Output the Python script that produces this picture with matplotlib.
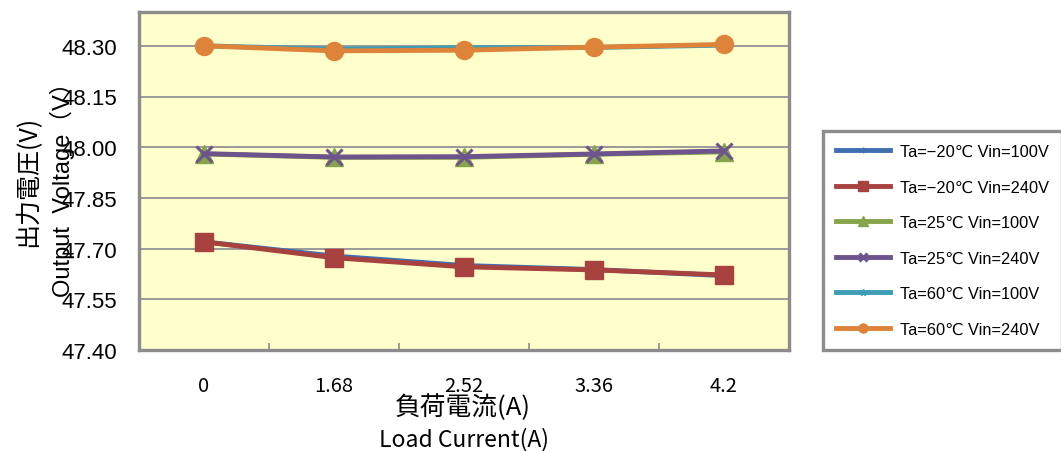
import numpy as np
import matplotlib.pyplot as plt
from matplotlib.ticker import FixedLocator

# Output voltage vs load current, six temperature / input voltage conditions
load_labels = ['0', '1.68', '2.52', '3.36', '4.2']

v_m20_100 = [47.720, 47.678, 47.650, 47.638, 47.620]
v_m20_240 = [47.720, 47.673, 47.646, 47.637, 47.622]
v_25_100 = [47.980, 47.970, 47.970, 47.979, 47.986]
v_25_240 = [47.981, 47.971, 47.972, 47.980, 47.989]
v_60_100 = [48.300, 48.290, 48.294, 48.295, 48.302]
v_60_240 = [48.300, 48.285, 48.287, 48.296, 48.304]

series_names = ['Ta=\u221220\u2103 Vin=100V', 'Ta=\u221220\u2103 Vin=240V',
                'Ta=25\u2103 Vin=100V', 'Ta=25\u2103 Vin=240V',
                'Ta=60\u2103 Vin=100V', 'Ta=60\u2103 Vin=240V']

y_ticks = [47.40, 47.55, 47.70, 47.85, 48.00, 48.15, 48.30]

jp = ['Noto Sans CJK JP', 'DejaVu Sans']
plt.rcParams['font.family'] = jp

fig = plt.figure(figsize=(10.61, 4.52), dpi=100)
ax = fig.add_axes([139 / 1061, 1 - 351 / 452, 650 / 1061, 338 / 452])
ax.set_facecolor('#FFFFCC')

x = np.arange(len(load_labels))
styles = [
    (v_m20_100, '#3F6FB0', 'D', 5),
    (v_m20_240, '#A8423F', 's', 13),
    (v_25_100, '#86A44A', '^', 13),
    (v_25_240, '#6E548D', 'x', 12),
    (v_60_100, '#3C9DB5', '*', 10),
    (v_60_240, '#DE833A', 'o', 13),
]
for (vals, col, mk, ms), name in zip(styles, series_names):
    mew = 2.2 if mk == 'x' else 1
    ax.plot(x, vals, color=col, lw=3.5, marker=mk, markersize=ms,
            markeredgewidth=mew, label=name)

ax.set_xlim(-0.5, len(load_labels) - 0.5)
ax.set_ylim(47.40, 48.40)
ax.set_yticks(y_ticks)
ax.set_yticklabels([f'{v:.2f}' for v in y_ticks], family='Liberation Sans', fontsize=16)
ax.set_xticks(x)
ax.set_xticklabels(load_labels, fontsize=14.5)
ax.xaxis.set_minor_locator(FixedLocator(x[:-1] + 0.5))
ax.tick_params(axis='y', length=0, pad=16)
ax.tick_params(axis='x', which='major', length=0, pad=18)
ax.tick_params(axis='x', which='minor', direction='in', length=5, width=1.2, color='#8C8C8C')

ax.grid(axis='y', color='#9A9A9A', lw=1.4)
ax.set_axisbelow(True)
for sp in ax.spines.values():
    sp.set_color('#8C8C8C')
    sp.set_linewidth(2.4)

latin = ['Liberation Sans', 'Noto Sans CJK JP']
fig.text(28 / 1061, 1 - 181 / 452, '出力電圧(V)', rotation=90, ha='center', va='center', fontsize=18)
fig.text(62 / 1061, 1 - 184 / 452, 'Output  Voltage\uff08V\uff09', rotation=90, ha='center', va='center',
         fontsize=17, family=latin)
fig.text(463 / 1061, 1 - 408 / 452, '負荷電流(A)', ha='center', va='center', fontsize=18.5)
fig.text(464 / 1061, 1 - 440 / 452, 'Load Current(A)', ha='center', va='center', fontsize=16.5)

leg = fig.legend(loc='upper left', bbox_to_anchor=(823 / 1061, 1 - 132 / 452),
                 borderaxespad=0, handlelength=3.3, handletextpad=0.6,
                 labelspacing=1.25, borderpad=0.8,
                 markerscale=0.5, fancybox=False, framealpha=1,
                 prop={'family': ['Liberation Sans', 'DejaVu Sans'], 'size': 11.8})
leg.get_frame().set_edgecolor('#8C8C8C')
leg.get_frame().set_linewidth(2.4)

fig.savefig('out.png', dpi=100)
